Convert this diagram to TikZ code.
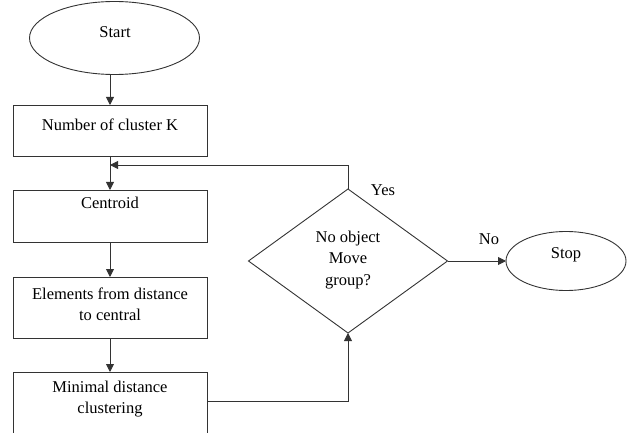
\documentclass[tikz,border=0pt]{standalone}
\usepackage{fontspec}
\setmainfont{Liberation Serif}
\usetikzlibrary{shapes.geometric,arrows.meta}
\begin{document}
\begin{tikzpicture}[x=1pt,y=-1pt, line width=0.9pt,
  box/.style={draw=black!80, inner sep=0pt, outer sep=0pt, minimum width=194pt},
  shp/.style={draw=black!80, inner sep=0pt, outer sep=0pt},
  lbl/.style={font=\fontsize{16.5}{21.5}\selectfont, align=center, inner sep=0pt, text=black},
  arr/.style={draw=black!80, -{Triangle[length=8pt,width=8pt]}}]
\useasboundingbox (0,0) rectangle (627,433);
\clip (0,0) rectangle (627,433);
% shapes
\node[shp, ellipse, minimum width=170pt, minimum height=73pt] (start) at (114.5,38) {};
\node[box, minimum height=51pt] (b1) at (110,130.5) {};
\node[box, minimum height=52pt] (b2) at (110,216) {};
\node[box, minimum height=61pt] (b3) at (110,307.5) {};
\node[box, minimum height=90pt] (b4) at (110,417) {};
\node[shp, diamond, aspect=1.38, minimum width=199pt, minimum height=144pt] (dec) at (348,261) {};
\node[shp, ellipse, minimum width=120pt, minimum height=59pt] (stop) at (566,261) {};
% texts
\node[lbl] (tstart) at (115,32) {Start};
\node[lbl] (t1) at (110,125) {Number of cluster K};
\node[lbl] (t2) at (110,203) {Centroid};
\node[lbl] (t3) at (110,304.5) {Elements from distance\\to central};
\node[lbl] (t4) at (110,399) {Minimal distance\\clustering};
\node[lbl] (tdec) at (348,260) {No object\\Move\\group?};
\node[lbl] (tstop) at (566,255) {Stop};
\node[lbl] (yes) at (383,190) {Yes};
\node[lbl] (no) at (489,239) {No};
% connectors
\coordinate (fb) at (344,165);
\coordinate (m) at (207,401);
\draw[arr] (b1.north |- start.south) -- (b1.north);
\draw[arr] (b1.south) -- (b2.north);
\draw[arr] (b2.south) -- (b3.north);
\draw[arr] (b3.south) -- (b4.north);
\draw[arr] (dec.north) |- (b1.south |- fb);
\draw[arr] (m) -| (dec.south);
\draw[arr] (dec.east) -- (stop.west);
\end{tikzpicture}
\end{document}
